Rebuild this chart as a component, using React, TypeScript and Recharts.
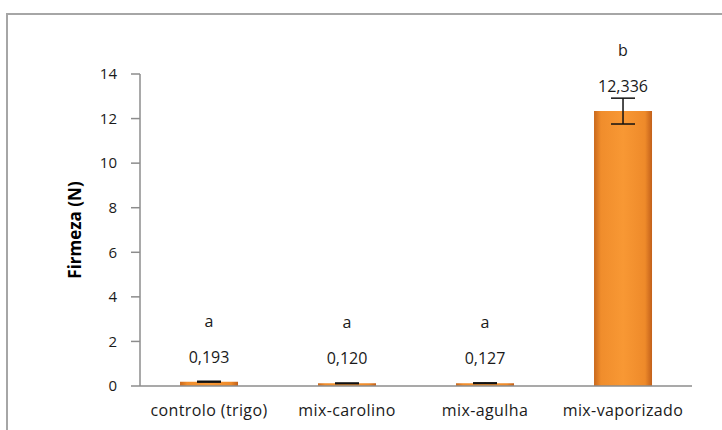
import React from 'react';
import { BarChart, Bar, XAxis, YAxis, ErrorBar, LabelList } from 'recharts';

const categories = ['controlo (trigo)', 'mix-carolino', 'mix-agulha', 'mix-vaporizado'];
const firmeza = [0.193, 0.12, 0.127, 12.336];
const desvio = [0.02, 0.015, 0.015, 0.58];
const letras = ['a', 'a', 'a', 'b'];
const yTicks = [0, 2, 4, 6, 8, 10, 12, 14];

const data = categories.map((name, i) => ({ name, value: firmeza[i], err: desvio[i] }));

const FONT = '"Open Sans", sans-serif';

// value label just above the bar, significance letter further up
const ValueLabel = (props: any) => {
  const { x, y, width, value, index } = props;
  const cx = x + width / 2;
  return (
    <g fontFamily={FONT} fontSize={16} fill="#1a1a1a">
      <text x={cx} y={y - 25} textAnchor="middle" dominantBaseline="central">
        {Number(value).toFixed(3).replace('.', ',')}
      </text>
      <text x={cx} y={y - 61} textAnchor="middle" dominantBaseline="central">
        {letras[index]}
      </text>
    </g>
  );
};

export default function App() {
  return (
    <div style={{ position: 'absolute', left: 0, top: 0, width: 722, height: 430, overflow: 'hidden', background: '#fff' }}>
      <div style={{ position: 'absolute', left: 6, top: 13, width: 740, height: 440, border: '2px solid #a6a6a6', boxSizing: 'border-box' }} />
      <div style={{ position: 'absolute', left: 0, top: 0 }}>
        <BarChart width={722} height={430} data={data} margin={{ top: 74, right: 30, bottom: 14, left: 0 }} barCategoryGap="29%">
          <defs>
            <linearGradient id="laranja" x1="0" y1="0" x2="1" y2="0">
              <stop offset="0%" stopColor="#c9681c" />
              <stop offset="12%" stopColor="#f08d2c" />
              <stop offset="50%" stopColor="#f89834" />
              <stop offset="88%" stopColor="#ee8a2a" />
              <stop offset="100%" stopColor="#c2601a" />
            </linearGradient>
          </defs>
          <XAxis
            dataKey="name"
            height={30}
            tickLine={false}
            tickSize={0}
            tickMargin={19}
            axisLine={{ stroke: '#8c8c8c', strokeWidth: 1.5 }}
            tick={{ fontSize: 16, fontFamily: FONT, fill: '#1a1a1a', letterSpacing: 0.4 }}
            interval={0}
          />
          <YAxis
            width={140}
            domain={[0, 14]}
            ticks={yTicks}
            tickSize={9}
            tickMargin={14}
            axisLine={{ stroke: '#8c8c8c', strokeWidth: 1.5 }}
            tickLine={{ stroke: '#8c8c8c', strokeWidth: 1.5 }}
            tick={{ fontSize: 15, fontFamily: FONT, fill: '#1a1a1a' }}
            label={{ value: 'Firmeza (N)', angle: -90, position: 'center', dx: 5, style: { fontSize: 17, fontWeight: 'bold', fontFamily: FONT, fill: '#000' } }}
          />
          <Bar dataKey="value" fill="url(#laranja)" isAnimationActive={false}>
            <ErrorBar dataKey="err" width={12} stroke="#111" strokeWidth={1.5} />
            <LabelList dataKey="value" content={ValueLabel} />
          </Bar>
        </BarChart>
      </div>
    </div>
  );
}
